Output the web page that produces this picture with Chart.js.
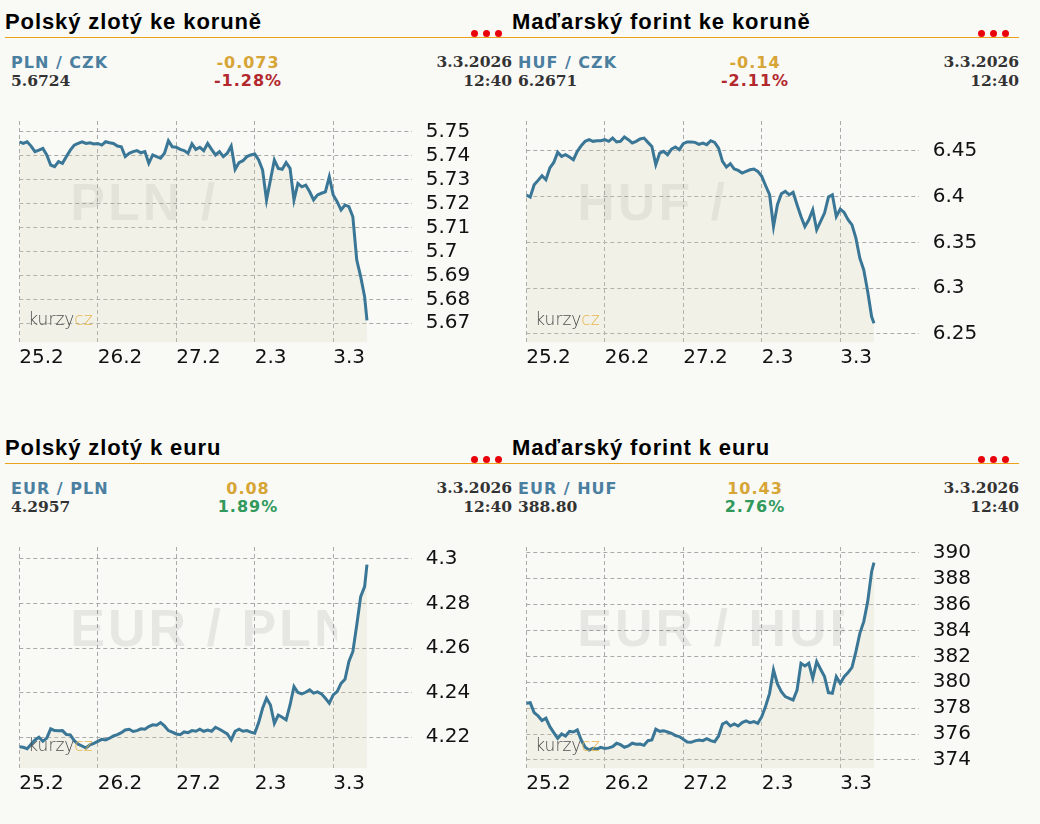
<!DOCTYPE html>
<html lang="cs">
<head>
<meta charset="utf-8">
<script src="https://cdn.jsdelivr.net/npm/chart.js@4.4.1/dist/chart.umd.min.js"></script>
<style>
  body { margin: 0; width: 1040px; height: 824px; overflow: hidden; position: relative; background: #f9f9f6; }
  .panel { position: absolute; width: 512px; height: 426px; }
  .title { position: absolute; left: 5px; top: 11px; font: bold 22px "Liberation Sans", Arial, sans-serif; line-height: 22px; letter-spacing: 0.9px; color: #000; white-space: nowrap; }
  .rule { position: absolute; left: 5px; top: 36.5px; width: 507px; height: 1.5px; background: #e9a21a; }
  .dot { position: absolute; top: 30px; width: 7px; height: 7px; border-radius: 50%; background: #e8000b; }
  .pair, .chg, .pct { position: absolute; font: bold 16px "DejaVu Sans", Verdana, sans-serif; line-height: 16px; letter-spacing: 1px; white-space: nowrap; }
  .pair { left: 11px; top: 55px; color: #4b7fa0; }
  .chg { left: 148px; width: 200px; text-align: center; top: 55px; color: #d6a536; }
  .pct { left: 148px; width: 200px; text-align: center; top: 73px; }
  .down { color: #b2282d; }
  .up { color: #31995c; }
  .rate, .date, .time { position: absolute; font: bold 15.5px "DejaVu Serif", Georgia, serif; line-height: 16px; color: #333; white-space: nowrap; }
  .rate { left: 11px; top: 73px; }
  .date { right: 0; top: 54px; }
  .time { right: 0; top: 73px; }
  canvas { position: absolute; left: 0; top: 100px; }
</style>
</head>
<body>

<div class="panel" style="left:0;top:0">
  <div class="title">Polský zlotý ke koruně</div>
  <div class="rule"></div>
  <div class="dot" style="left:471px"></div><div class="dot" style="left:483px"></div><div class="dot" style="left:495px"></div>
  <div class="pair">PLN / CZK</div>
  <div class="rate">5.6724</div>
  <div class="chg">-0.073</div>
  <div class="pct down">-1.28%</div>
  <div class="date">3.3.2026</div>
  <div class="time">12:40</div>
  <canvas id="c1" width="507" height="280"></canvas>
</div>

<div class="panel" style="left:507px;top:0">
  <div class="title">Maďarský forint ke koruně</div>
  <div class="rule"></div>
  <div class="dot" style="left:471px"></div><div class="dot" style="left:483px"></div><div class="dot" style="left:495px"></div>
  <div class="pair">HUF / CZK</div>
  <div class="rate">6.2671</div>
  <div class="chg">-0.14</div>
  <div class="pct down">-2.11%</div>
  <div class="date">3.3.2026</div>
  <div class="time">12:40</div>
  <canvas id="c2" width="507" height="280"></canvas>
</div>

<div class="panel" style="left:0;top:426px">
  <div class="title">Polský zlotý k euru</div>
  <div class="rule"></div>
  <div class="dot" style="left:471px"></div><div class="dot" style="left:483px"></div><div class="dot" style="left:495px"></div>
  <div class="pair">EUR / PLN</div>
  <div class="rate">4.2957</div>
  <div class="chg">0.08</div>
  <div class="pct up">1.89%</div>
  <div class="date">3.3.2026</div>
  <div class="time">12:40</div>
  <canvas id="c3" width="507" height="280"></canvas>
</div>

<div class="panel" style="left:507px;top:426px">
  <div class="title">Maďarský forint k euru</div>
  <div class="rule"></div>
  <div class="dot" style="left:471px"></div><div class="dot" style="left:483px"></div><div class="dot" style="left:495px"></div>
  <div class="pair">EUR / HUF</div>
  <div class="rate">388.80</div>
  <div class="chg">10.43</div>
  <div class="pct up">2.76%</div>
  <div class="date">3.3.2026</div>
  <div class="time">12:40</div>
  <canvas id="c4" width="507" height="280"></canvas>
</div>

<script>
// x axis: trading days, position in days from the start of 25.2
const dayLabels = ['25.2', '26.2', '27.2', '2.3', '3.3'];
const dayTicks = [0, 1, 2, 3, 4];

const sampleTimes = [
  0, 0.05, 0.1, 0.15, 0.2, 0.25, 0.3, 0.35, 0.4, 0.45, 0.5, 0.55, 0.6, 0.65, 0.7, 0.75, 0.8, 0.85, 0.9, 0.95,
  1, 1.05, 1.1, 1.15, 1.2, 1.25, 1.3, 1.35, 1.4, 1.45, 1.5, 1.55, 1.6, 1.65, 1.7, 1.75, 1.8, 1.85, 1.9, 1.95,
  2, 2.05, 2.1, 2.15, 2.2, 2.25, 2.3, 2.35, 2.4, 2.45, 2.5, 2.55, 2.6, 2.65, 2.7, 2.75, 2.8, 2.85, 2.9, 2.95,
  3, 3.05, 3.1, 3.15, 3.2, 3.25, 3.3, 3.35, 3.4, 3.45, 3.5, 3.55, 3.6, 3.65, 3.7, 3.75, 3.8, 3.85, 3.9, 3.95,
  4, 4.05, 4.1, 4.15, 4.2, 4.25, 4.3, 4.35, 4.4, 4.43
];

const plnCzk = [
  5.7458, 5.7451, 5.7458, 5.7440, 5.7417, 5.7423, 5.7430, 5.7403, 5.7361, 5.7354, 5.7375, 5.7368, 5.7396, 5.7423, 5.7444, 5.7451, 5.7458, 5.7451, 5.7454, 5.7449,
  5.7451, 5.7444, 5.7458, 5.7454, 5.7451, 5.7440, 5.7437, 5.7396, 5.7410, 5.7417, 5.7421, 5.7412, 5.7417, 5.7368, 5.7403, 5.7396, 5.7389, 5.7410, 5.7462, 5.7437,
  5.7435, 5.7426, 5.7421, 5.7410, 5.7449, 5.7426, 5.7435, 5.7421, 5.7451, 5.7426, 5.7403, 5.7417, 5.7396, 5.7410, 5.7440, 5.7343, 5.7371, 5.7379, 5.7396, 5.7403,
  5.7407, 5.7382, 5.7340, 5.7215, 5.7298, 5.7382, 5.7347, 5.7343, 5.7371, 5.7347, 5.7215, 5.7284, 5.7270, 5.7277, 5.7249, 5.7215, 5.7236, 5.7243, 5.7249, 5.7312,
  5.7236, 5.7208, 5.7173, 5.7194, 5.7187, 5.7145, 5.6964, 5.6895, 5.6811, 5.6712
];
const hufCzk = [
  6.4017, 6.3994, 6.4128, 6.4176, 6.4227, 6.4183, 6.4311, 6.4372, 6.4482, 6.4438, 6.4456, 6.4431, 6.4402, 6.4493, 6.4555, 6.4602, 6.4620, 6.4602, 6.4609, 6.4609,
  6.4620, 6.4602, 6.4638, 6.4595, 6.4602, 6.4649, 6.4620, 6.4584, 6.4602, 6.4628, 6.4638, 6.4591, 6.4547, 6.4347, 6.4474, 6.4493, 6.4456, 6.4518, 6.4540, 6.4511,
  6.4577, 6.4595, 6.4595, 6.4591, 6.4569, 6.4584, 6.4566, 6.4609, 6.4591, 6.4529, 6.4383, 6.4321, 6.4358, 6.4300, 6.4285, 6.4256, 6.4274, 6.4292, 6.4300, 6.4274,
  6.4220, 6.4117, 6.4019, 6.3673, 6.3910, 6.4030, 6.4056, 6.4019, 6.4045, 6.3910, 6.3782, 6.3673, 6.3746, 6.3855, 6.3637, 6.3728, 6.3819, 6.3994, 6.4019, 6.3782,
  6.3862, 6.3826, 6.3746, 6.3691, 6.3546, 6.3327, 6.3199, 6.2963, 6.2690, 6.2617
];
const eurPln = [
  4.2158, 4.2155, 4.2149, 4.2169, 4.2188, 4.2200, 4.2182, 4.2196, 4.2238, 4.2230, 4.2229, 4.2230, 4.2212, 4.2211, 4.2185, 4.2169, 4.2161, 4.2152, 4.2166, 4.2173,
  4.2182, 4.2191, 4.2188, 4.2196, 4.2206, 4.2212, 4.2221, 4.2233, 4.2236, 4.2226, 4.2230, 4.2238, 4.2236, 4.2248, 4.2256, 4.2254, 4.2266, 4.2251, 4.2230, 4.2223,
  4.2215, 4.2212, 4.2224, 4.2221, 4.2230, 4.2227, 4.2236, 4.2227, 4.2232, 4.2227, 4.2245, 4.2236, 4.2226, 4.2215, 4.2188, 4.2227, 4.2236, 4.2227, 4.2230, 4.2223,
  4.2218, 4.2266, 4.2330, 4.2375, 4.2345, 4.2263, 4.2300, 4.2290, 4.2278, 4.2345, 4.2428, 4.2401, 4.2395, 4.2402, 4.2413, 4.2398, 4.2404, 4.2395, 4.2375, 4.2353,
  4.2390, 4.2405, 4.2442, 4.2460, 4.2540, 4.2584, 4.2704, 4.2831, 4.2876, 4.2975
];
const eurHuf = [
  378.37, 378.42, 377.65, 377.40, 377.04, 377.22, 376.57, 376.11, 375.67, 376.01, 375.85, 376.21, 376.16, 376.32, 375.54, 374.98, 374.77, 374.90, 374.85, 374.98,
  374.88, 374.93, 375.03, 375.29, 375.18, 374.98, 375.08, 375.29, 375.21, 375.23, 375.13, 375.49, 375.54, 376.37, 376.21, 376.26, 376.16, 376.06, 375.88, 375.80,
  375.59, 375.39, 375.36, 375.47, 375.54, 375.49, 375.65, 375.49, 375.41, 375.85, 376.78, 376.93, 376.62, 376.78, 376.62, 376.88, 377.01, 376.88, 376.96, 376.83,
  377.34, 378.17, 379.14, 380.95, 379.87, 379.27, 378.89, 378.76, 378.63, 379.40, 381.46, 381.25, 381.46, 380.30, 381.59, 381.00, 380.43, 379.20, 379.14, 380.43,
  379.92, 380.43, 380.74, 381.15, 382.36, 383.77, 384.68, 386.22, 388.53, 389.23
];

const plnCzkTicks = [5.67, 5.68, 5.69, 5.7, 5.71, 5.72, 5.73, 5.74, 5.75];
const hufCzkTicks = [6.25, 6.3, 6.35, 6.4, 6.45];
const eurPlnTicks = [4.22, 4.24, 4.26, 4.28, 4.3];
const eurHufTicks = [374, 376, 378, 380, 382, 384, 386, 388, 390];

const plnCzkRange = [5.66198, 5.75447];
const hufCzkRange = [6.2407, 6.4824];
const eurPlnRange = [4.2060, 4.30538];
const eurHufRange = [373.34, 390.44];

const brandPlugin = {
  id: 'brand',
  beforeDatasetsDraw(chart, args, opts) {
    const { ctx, chartArea } = chart;
    const clipX = chart.scales.x.getPixelForValue(opts.clipDay);
    ctx.save();
    ctx.beginPath();
    ctx.rect(chartArea.left, chartArea.top, clipX - chartArea.left, chartArea.bottom - chartArea.top);
    ctx.clip();
    ctx.font = 'bold 52px "Liberation Sans", Arial, sans-serif';
    ctx.letterSpacing = '3px';
    ctx.fillStyle = 'rgba(0, 0, 0, 0.075)';
    ctx.textBaseline = 'middle';
    ctx.fillText(opts.text, chartArea.left + 51, chartArea.top + 85);
    ctx.restore();
  },
  afterDatasetsDraw(chart) {
    const { ctx, chartArea } = chart;
    const x = chartArea.left + 9;
    const y = chartArea.bottom - 17.5;
    ctx.save();
    ctx.font = '200 17px "DejaVu Sans", sans-serif';
    ctx.textBaseline = 'alphabetic';
    ctx.fillStyle = '#4d4d4d';
    ctx.fillText('kurzy', x, y);
    const w = ctx.measureText('kurzy').width;
    ctx.fillStyle = '#e6b54a';
    ctx.fillText('cz', x + w, y);
    ctx.restore();
  }
};

function drawChart(id, values, range, yTicks, watermark, clipDay) {
  const gridStyle = { color: '#a9a9a9', lineWidth: 1, drawTicks: false };
  const tickFont = { family: '"DejaVu Sans", Verdana, sans-serif', size: 20 };

  return new Chart(document.getElementById(id), {
    type: 'line',
    data: {
      datasets: [{
        data: sampleTimes.map((t, i) => ({ x: t, y: values[i] })),
        borderColor: '#3a7696',
        borderWidth: 3,
        pointRadius: 0,
        tension: 0,
        fill: 'start',
        backgroundColor: 'rgba(214, 214, 180, 0.22)'
      }]
    },
    options: {
      responsive: false,
      animation: false,
      layout: { padding: { left: 19.3, top: 21, right: 0, bottom: 0 } },
      plugins: {
        legend: { display: false },
        tooltip: { enabled: false },
        brand: { text: watermark, clipDay: clipDay }
      },
      scales: {
        x: {
          type: 'linear',
          min: 0,
          max: 5,
          afterBuildTicks: axis => { axis.ticks = dayTicks.map(v => ({ value: v })); },
          afterFit: axis => { axis.height = 37.5; },
          grid: gridStyle,
          border: { display: false, dash: [4, 3] },
          ticks: {
            align: 'start',
            padding: 3,
            autoSkip: false,
            maxRotation: 0,
            color: '#111',
            font: tickFont,
            callback: (v, i) => dayLabels[i]
          }
        },
        y: {
          position: 'right',
          min: range[0],
          max: range[1],
          afterBuildTicks: axis => { axis.ticks = yTicks.map(v => ({ value: v })); },
          afterFit: axis => { axis.width = 95.3; },
          // invisible tick marks keep the labels 14px off the plot
          grid: { ...gridStyle, drawTicks: true, tickLength: 14, tickColor: 'rgba(0,0,0,0)' },
          border: { display: false, dash: [4, 3] },
          ticks: {
            padding: 0,
            autoSkip: false,
            color: '#111',
            font: tickFont,
            callback: v => String(v)
          }
        }
      }
    },
    plugins: [brandPlugin]
  });
}

drawChart('c1', plnCzk, plnCzkRange, plnCzkTicks, 'PLN / CZK', 2.71);
drawChart('c2', hufCzk, hufCzkRange, hufCzkTicks, 'HUF / CZK', 2.71);
drawChart('c3', eurPln, eurPlnRange, eurPlnTicks, 'EUR / PLN', 4.05);
drawChart('c4', eurHuf, eurHufRange, eurHufTicks, 'EUR / HUF', 4.05);
</script>
</body>
</html>
